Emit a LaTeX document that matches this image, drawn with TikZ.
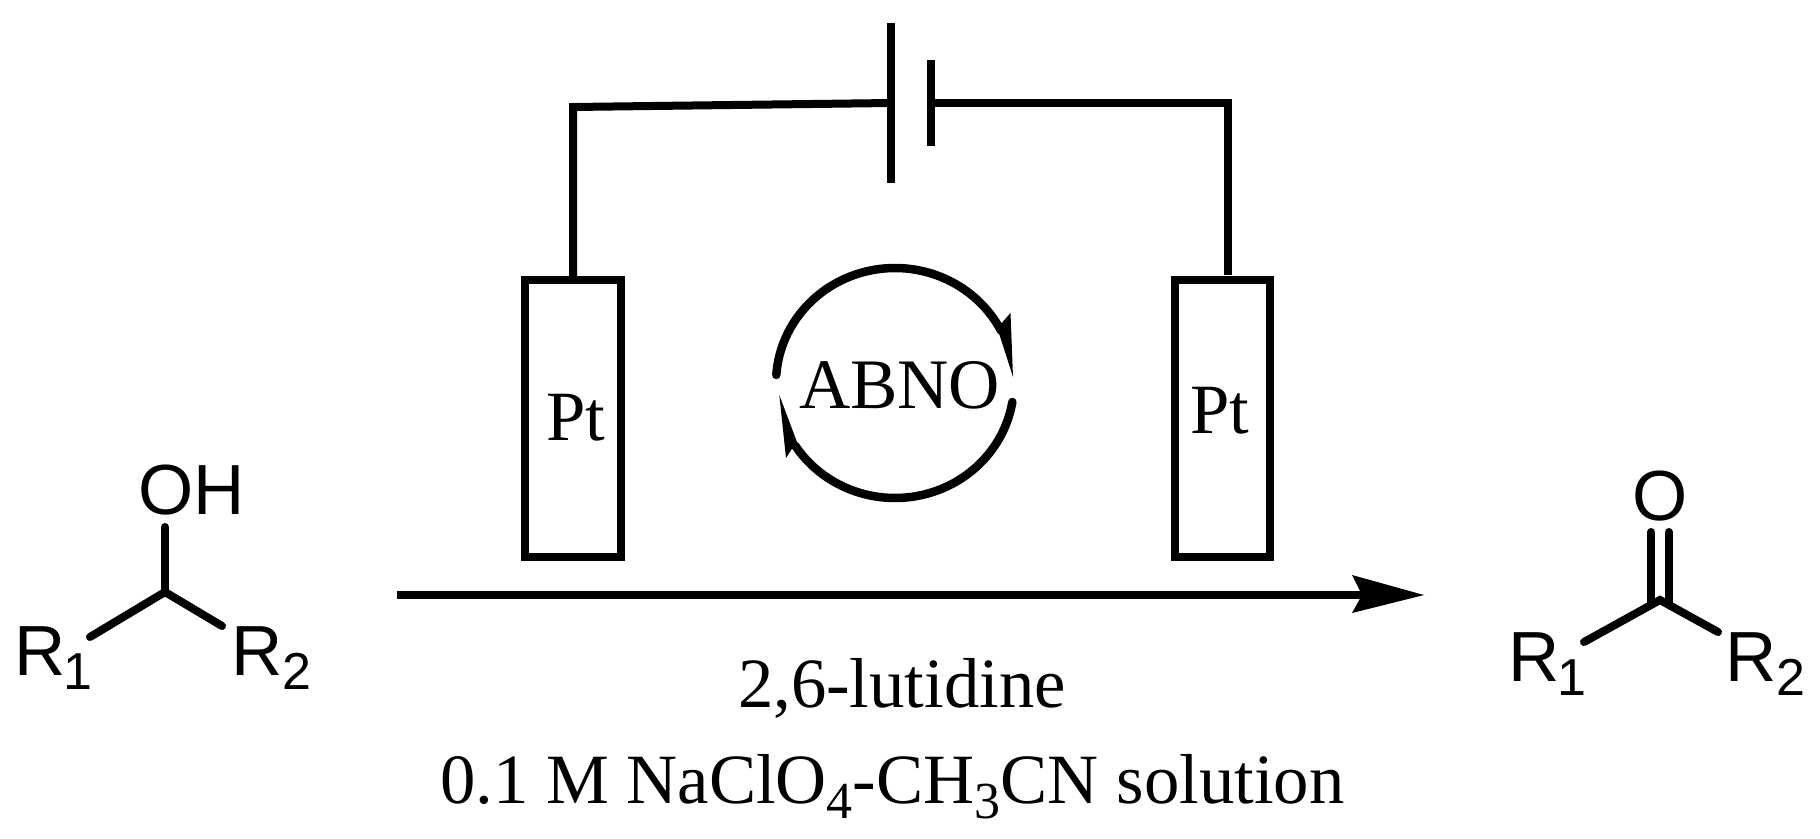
\documentclass[tikz,border=0pt]{standalone}
\usepackage{fontspec}
\setmainfont{Liberation Serif}
\newfontfamily\arialfont{Liberation Sans}
\newcommand{\lowsub}[1]{\raisebox{-15pt}{\fontsize{52}{52}\selectfont #1}}
\newcommand{\atomsub}[1]{\raisebox{-14pt}{\fontsize{52}{52}\selectfont #1}}
\tikzset{
  serifl/.style={inner sep=0pt,outer sep=0pt,anchor=base west,font=\fontsize{70.7}{71}\selectfont},
  atoml/.style={inner sep=0pt,outer sep=0pt,anchor=base west,font=\arialfont\fontsize{71}{71}\selectfont},
  electrode/.style={draw,line width=8pt,inner sep=0pt,outer sep=0pt,minimum height=277pt},
  wire/.style={line width=8pt,miter limit=10},
  plate/.style={line width=7.5pt},
  bond/.style={line width=8pt,line cap=round},
  cyc/.style={line width=8.5pt,line cap=round},
}
\begin{document}
\begin{tikzpicture}[x=1pt,y=-1pt]
\useasboundingbox (0,0) rectangle (1820,838);
% electrodes
\node[electrode,minimum width=96pt] (eL) at (573,418.5) {};
\node[electrode,minimum width=95pt] (eR) at (1222.5,418.5) {};
\node[serifl] (ptL) at (546,440) {Pt};
\node[serifl] (ptR) at (1190,433) {Pt};
% battery
\coordinate (bA1) at (891,23);
\coordinate (bA2) at (891,183);
\coordinate (bB1) at (931,60);
\coordinate (bB2) at (931,146);
\coordinate (bAm) at (891,103);
\coordinate (bBm) at (931,103);
\coordinate (cL) at (573,107);
\coordinate (cR) at (1228,103);
\coordinate (wR) at (1228,275);
\draw[plate] (bA1) -- (bA2);
\draw[plate] (bB1) -- (bB2);
\draw[wire] (eL.north) -- (cL) -- (bAm);
\draw[wire] (bBm) -- (cR) -- (wR);
% catalytic cycle
\node[serifl,font=\fontsize{71}{71}\selectfont] (abno) at (799,408) {ABNO};
\draw[cyc] plot[smooth,domain=176:27,samples=50] ({895+119*cos(\x)},{383-115*sin(\x)});
\draw[cyc] plot[smooth,domain=-9.5:-147,samples=50] ({895+119*cos(\x)},{383-115*sin(\x)});
\fill (1013,377) -- (1010.5,313) -- (1001.7,323) -- (998,330) -- cycle;
\fill (779.3,395) -- (786,458) -- (793,447) -- (797,442) -- cycle;
% main arrow
\coordinate (arS) at (397,595);
\coordinate (arT) at (1424,595);
\coordinate (arN) at (1362,595);
\draw[line width=8pt] (arS) -- (arN);
\fill (arT) -- (1352,575) -- (arN) -- (1352,613) -- cycle;
% conditions
\node[serifl] (lut) at (738,707) {2,6-lutidine};
\node[serifl] (sol) at (440,803) {0.1 M NaClO\lowsub{4}-CH\lowsub{3}CN solution};
% alcohol
\node[atoml] (oh) at (138.5,514) {OH};
\node[atoml] (ra1) at (14.5,675) {R\kern-2pt\atomsub{1}};
\node[atoml] (ra2) at (231.5,675) {R\atomsub{2}};
\coordinate (ca) at (165,592);
\coordinate (caO) at (165,527);
\coordinate (caL) at (90,637);
\coordinate (caR) at (222,626);
\draw[bond] (caO) -- (ca);
\draw[bond] (caL) -- (ca) -- (caR);
% ketone
\node[atoml] (ok) at (1632,520) {O};
\node[atoml] (rb1) at (1508,681) {R\kern-2pt\atomsub{1}};
\node[atoml] (rb2) at (1725.5,681) {R\atomsub{2}};
\coordinate (cb) at (1660,600);
\coordinate (cbA) at (1651,532);
\coordinate (cbB) at (1669,532);
\coordinate (cbAe) at (1651,603);
\coordinate (cbBe) at (1669,603);
\coordinate (cbL) at (1584,642);
\coordinate (cbR) at (1718,632);
\draw[bond] (cbA) -- (cbAe);
\draw[bond] (cbB) -- (cbBe);
\draw[bond] (cbL) -- (cb) -- (cbR);
\end{tikzpicture}
\end{document}
